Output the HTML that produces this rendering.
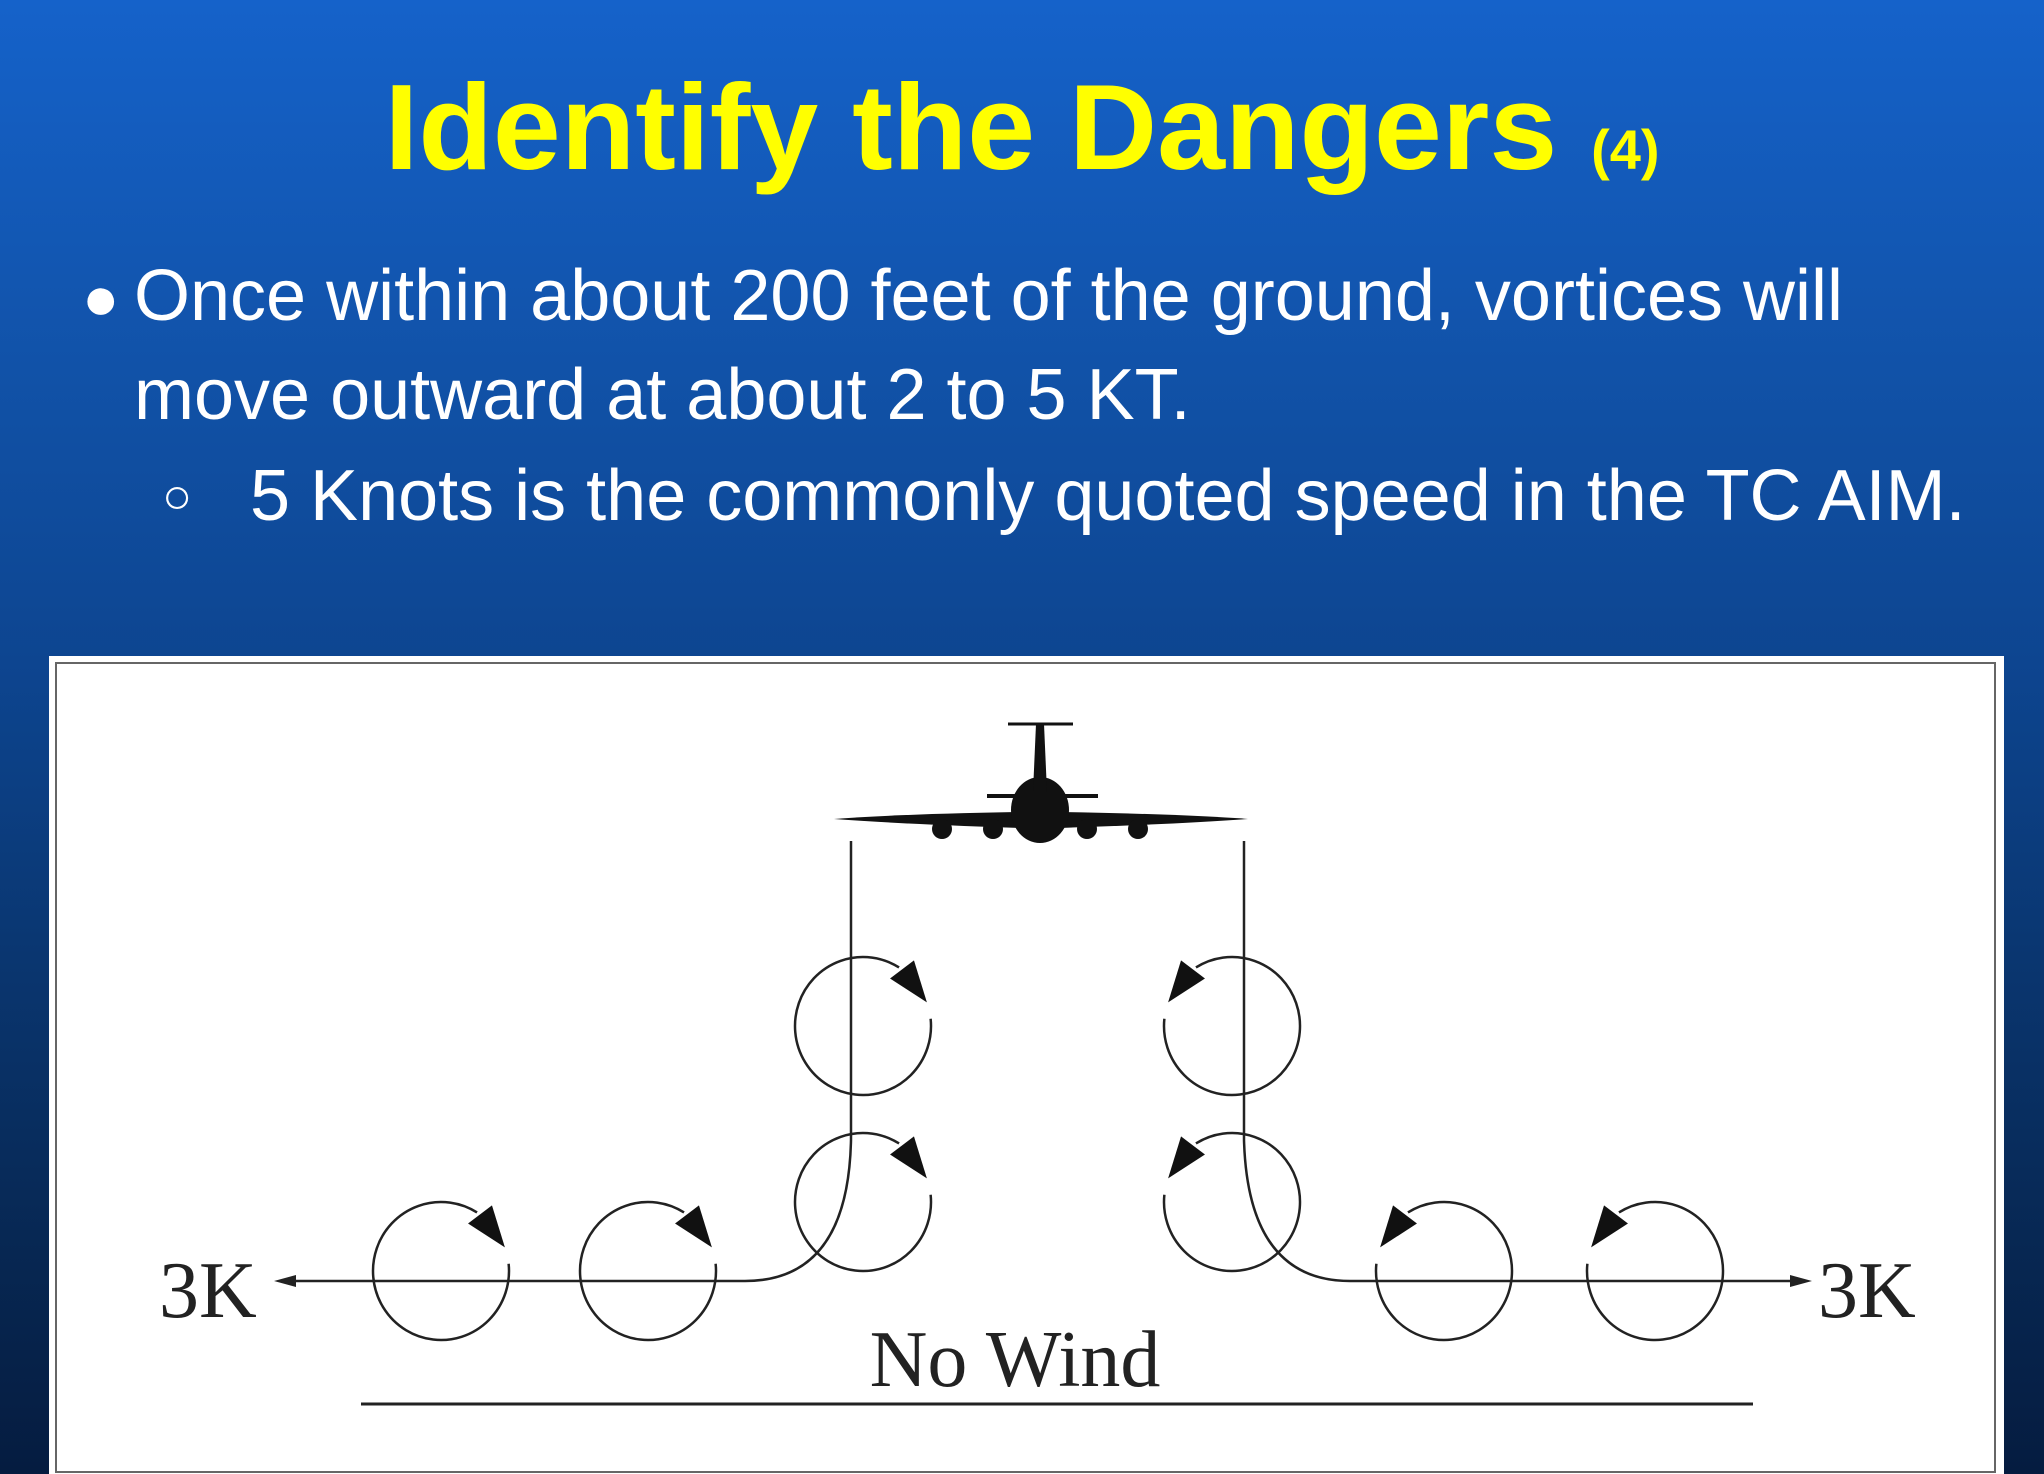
<!DOCTYPE html>
<html><head><meta charset="utf-8">
<style>
html,body{margin:0;padding:0}
body{width:2044px;height:1474px;overflow:hidden;position:relative;
background:linear-gradient(180deg,#1562ca 0%,#1152a8 25%,#0d4590 45%,#0a3670 65%,#072752 85%,#051c40 100%);
font-family:"Liberation Sans",Arial,sans-serif}
.t{position:absolute;white-space:nowrap;color:#fff}
</style></head><body>
<div class="t" style="left:0;width:2044px;top:52px;text-align:center;color:#ffff00;font-weight:bold;font-size:122px;line-height:150px;">Identify the Dangers <span style="font-size:56px;">(4)</span></div>
<div class="t" style="left:82px;top:259px;font-size:62px;line-height:80px;">●</div>
<div class="t" style="left:134px;top:256px;font-size:72px;line-height:80px;">Once within about 200 feet of the ground, vortices will</div>
<div class="t" style="left:134px;top:355px;font-size:72px;line-height:80px;">move outward at about 2 to 5 KT.</div>
<div class="t" style="left:162px;top:456px;font-size:50px;line-height:80px;">○</div>
<div class="t" style="left:250px;top:456px;font-size:72px;line-height:80px;">5 Knots is the commonly quoted speed in the TC AIM.</div>

<svg style="position:absolute;left:0;top:0" width="2044" height="1474" xmlns="http://www.w3.org/2000/svg">
<rect x="49" y="656" width="1955" height="830" fill="#fff"/>
<rect x="56" y="663" width="1939" height="809" fill="none" stroke="#666" stroke-width="2"/>
<g id="plane" fill="#111" stroke="#111">
<path d="M834,819 Q900,814 1020,812 L1060,812 Q1180,814 1248,819 Q1180,824 1060,828 L1020,828 Q900,824 834,819Z" stroke="none"/>
<ellipse cx="1040" cy="810" rx="29" ry="33" stroke="none"/>
<path d="M1036,724 L1044,724 L1047,792 L1033,792Z" stroke="none"/>
<line x1="1008" y1="724" x2="1073" y2="724" stroke-width="3"/>
<line x1="987" y1="796" x2="1098" y2="796" stroke-width="4"/>
<circle cx="942" cy="829" r="10" stroke="none"/><circle cx="993" cy="829" r="10" stroke="none"/>
<circle cx="1087" cy="829" r="10" stroke="none"/><circle cx="1138" cy="829" r="10" stroke="none"/>
</g>
<g id="lines" fill="none" stroke="#222" stroke-width="2.5">
<path d="M851,841 L851,1140 Q848,1281 745,1281 L282,1281"/>
<path d="M1244,841 L1244,1140 Q1248,1281 1350,1281 L1802,1281"/>
<line x1="361" y1="1404" x2="1753" y2="1404" stroke-width="3"/>
</g>
<polygon points="274,1281 296,1275 296,1287" fill="#222"/>
<polygon points="1812,1281 1790,1275 1790,1287" fill="#222"/>
<g id="vortices"></g>
<text x="159" y="1317" font-family="Liberation Serif,serif" font-size="80" fill="#222">3K</text>
<text x="1818" y="1317" font-family="Liberation Serif,serif" font-size="80" fill="#222">3K</text>
<text x="1015" y="1386" text-anchor="middle" font-family="Liberation Serif,serif" font-size="80" fill="#222">No Wind</text>
</svg>
<script>
const vortexX=[863,863,441,648,1232,1232,1444,1655];
const vortexY=[1026,1202,1271,1271,1026,1202,1271,1271];
const vortexDir=[1,1,1,1,-1,-1,-1,-1];
const NS='http://www.w3.org/2000/svg';
const g=document.getElementById('vortices');
const rx=68,ry=69;
function pt(cx,cy,a,s){const r=a*Math.PI/180;return [cx+s*rx*Math.cos(r),cy+ry*Math.sin(r)];}
vortexX.forEach((cx,i)=>{
  const cy=vortexY[i],s=vortexDir[i];
  const p1=pt(cx,cy,-6,s),p2=pt(cx,cy,-58,s);
  const arc=document.createElementNS(NS,'path');
  arc.setAttribute('d',`M${p1[0]},${p1[1]} A${rx},${ry} 0 1 ${s>0?1:0} ${p2[0]},${p2[1]}`);
  arc.setAttribute('fill','none');arc.setAttribute('stroke','#222');arc.setAttribute('stroke-width','2.5');
  
  
  g.appendChild(arc);
  const tip=pt(cx,cy,-20,s),b=pt(cx,cy,-55,s);
  const ang=Math.atan2(tip[1]-b[1],tip[0]-b[0]);
  const nx=-Math.sin(ang)*15,ny=Math.cos(ang)*15;
  const tri=document.createElementNS(NS,'polygon');
  tri.setAttribute('points',`${tip[0]},${tip[1]} ${b[0]+nx},${b[1]+ny} ${b[0]-nx},${b[1]-ny}`);
  tri.setAttribute('fill','#111');
  
  
  g.appendChild(tri);
});
</script>
</body></html>
